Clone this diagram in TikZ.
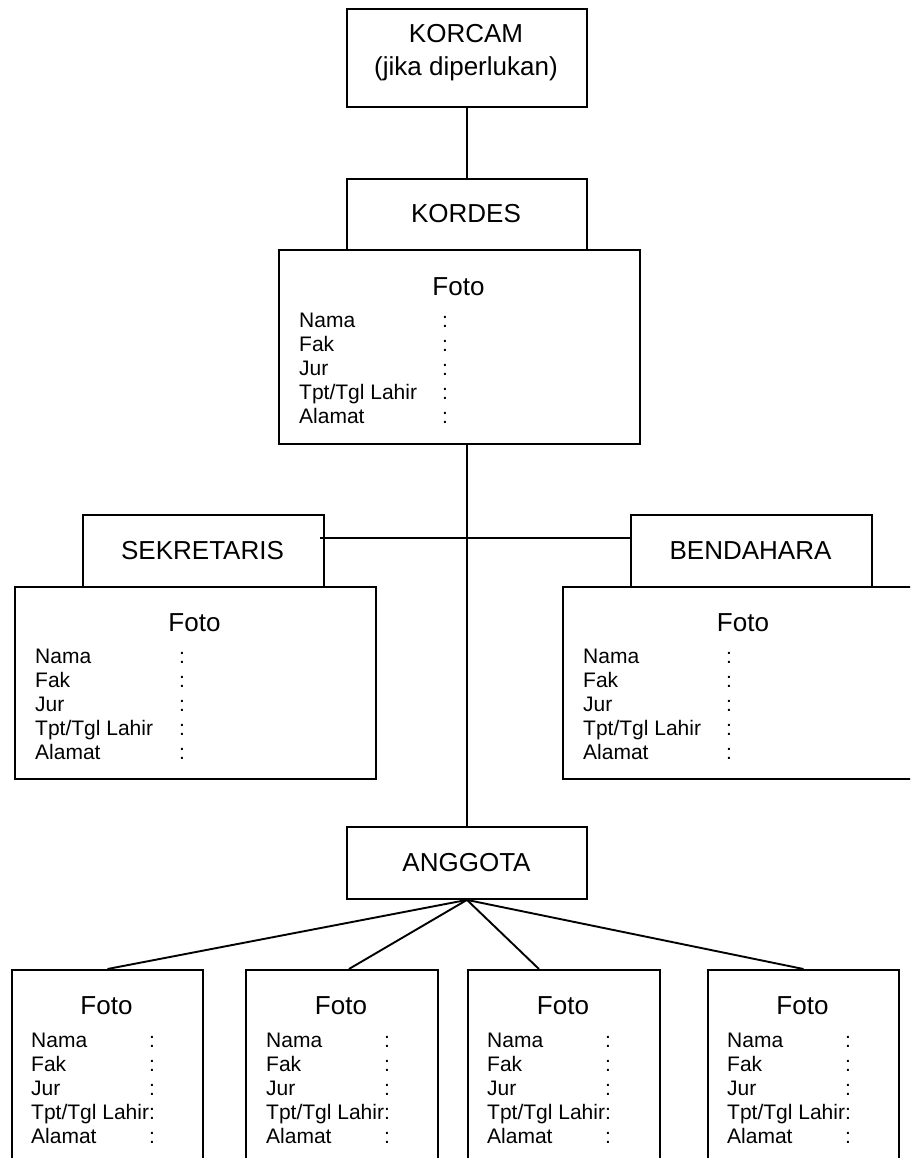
\documentclass[tikz,border=0pt]{standalone}
\usepackage{fontspec}
\setmainfont{Liberation Sans}
\tikzset{
  frame/.style={draw, line width=1.9pt, rectangle, inner sep=0pt, anchor=north west},
  head/.style={inner sep=0pt, anchor=base, font=\fontsize{26}{30}\selectfont},
  fld/.style={inner sep=0pt, anchor=base west, font=\fontsize{21}{24}\selectfont},
  link/.style={line width=1.9pt},
}
% name, x1, y1, x2, y2
\newcommand\mkbox[5]{%
  \node[frame, minimum width={#4-#2}, minimum height={#5-#3}] (#1) at (#2,#3) {};}
% prefix, x, first baseline y, colon offset
\newcommand\mkfields[4]{%
  \foreach \t [count=\i from 0] in {Nama,Fak,Jur,{Tpt/Tgl Lahir},Alamat} {
    \node[fld] (#1-l\i) at (#2, #3+24*\i) {\t};
    \node[fld] (#1-c\i) at (#2+#4, #3+24*\i) {:};
  }}
\begin{document}
\begin{tikzpicture}[x=1pt,y=-1pt]
\path[use as bounding box, clip] (0,0) rectangle (910,1158);

% boxes
\mkbox{korcam}{346}{8}{586}{106}
\mkbox{kordes}{346}{178}{586}{249}
\mkbox{kf}{278}{249}{639}{443}
\mkbox{sek}{82}{514}{323}{586}
\mkbox{sf}{14}{586}{375}{778}
\mkbox{ben}{630}{514}{871}{586}
\mkbox{bf}{562}{586}{924}{778}
\mkbox{ang}{346}{826}{586}{898}
\mkbox{a1}{11}{969}{202}{1190}
\mkbox{a2}{245}{969}{437}{1190}
\mkbox{a3}{467}{969}{659}{1190}
\mkbox{a4}{707}{969}{898}{1190}

% headings
\node[head] (t-korcam) at (466,43) {KORCAM};
\node[head] (t-jika) at (466,76) {(jika diperlukan)};
\node[head] (t-kordes) at (466,223) {KORDES};
\node[head] (t-kf) at (458.5,295) {Foto};
\node[head] (t-sek) at (202.5,559) {SEKRETARIS};
\node[head] (t-sf) at (194.5,631) {Foto};
\node[head] (t-ben) at (750.5,559) {BENDAHARA};
\node[head] (t-bf) at (743,631) {Foto};
\node[head] (t-ang) at (466.5,871) {ANGGOTA};
\node[head] (t-a1) at (106.5,1014) {Foto};
\node[head] (t-a2) at (341,1014) {Foto};
\node[head] (t-a3) at (563,1014) {Foto};
\node[head] (t-a4) at (802.5,1014) {Foto};

% fields
\mkfields{fkf}{299}{327}{143}
\mkfields{fsf}{35}{663}{144}
\mkfields{fbf}{583}{663}{143}
\mkfields{fa1}{31}{1047}{118}
\mkfields{fa2}{266}{1047}{118}
\mkfields{fa3}{487}{1047}{118}
\mkfields{fa4}{727}{1047}{118}

% connectors
\coordinate (hl) at (466,538);
\draw[link] (korcam.south) -- (kordes.north);
\draw[link] (ang.north |- kf.south) -- (ang.north);
\draw[link] ([xshift=-5pt]sek.east |- hl) -- (ben.west |- hl);
\draw[link] (ang.south) -- (a1.north);
\draw[link] (ang.south) -- ([xshift=7pt]a2.north);
\draw[link] (ang.south) -- ([xshift=-25pt]a3.north);
\draw[link] (ang.south) -- (a4.north);
\end{tikzpicture}
\end{document}
